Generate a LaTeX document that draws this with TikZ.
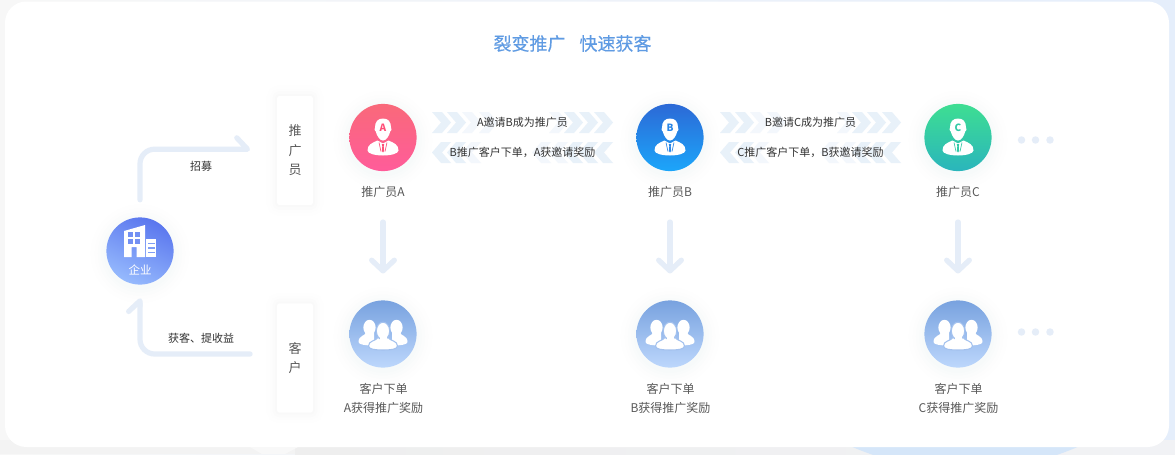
\documentclass[tikz,border=0pt]{standalone}
\usepackage{fontspec}
\setmainfont{Noto Sans CJK SC}
\newfontfamily\titlefont[FakeBold=0.3]{Noto Sans CJK SC}
\usetikzlibrary{arrows.meta,shapes.geometric}
\definecolor{flowc}{HTML}{E5EDF8}
\definecolor{bandc}{HTML}{E8F1F9}
\definecolor{bandl}{HTML}{F3F7FC}
\definecolor{txt}{HTML}{333333}
\definecolor{txtg}{HTML}{585858}
\definecolor{titlec}{HTML}{5F9BE3}
\definecolor{shadowc}{HTML}{6F8DC0}
\newcommand{\hx}[1]{\definecolor{#1}{HTML}{#1}}
\hx{F7F7F7}\hx{E5EEFB}\hx{F3F3F3}\hx{EEEEEE}\hx{F1F2F5}\hx{F8F8F8}\hx{C2DBF6}\hx{D6E6F9}
\hx{5A76EE}\hx{96BAFD}\hx{F9697A}\hx{FF4E78}\hx{FF5C9A}\hx{2C69D6}\hx{1CA6FA}\hx{3EDE92}\hx{2AB5BC}
\hx{78A2DF}\hx{BDD7FC}\hx{FF4F78}\hx{2A86E6}\hx{31C9A6}\hx{A3C1EE}\hx{7390F3}\hx{7E9DF5}
\tikzset{
  softshadow/.style={
    preaction={draw=shadowc,draw opacity=.004,line width=24pt,transform canvas={yshift=-2pt}},
    preaction={draw=shadowc,draw opacity=.005,line width=18pt,transform canvas={yshift=-2pt}},
    preaction={draw=shadowc,draw opacity=.006,line width=13pt,transform canvas={yshift=-2pt}},
    preaction={draw=shadowc,draw opacity=.007,line width=8pt,transform canvas={yshift=-2pt}},
    preaction={draw=shadowc,draw opacity=.008,line width=4pt,transform canvas={yshift=-2pt}}},
  faintshadow/.style={
    preaction={draw=black,draw opacity=.004,line width=16pt},
    preaction={draw=black,draw opacity=.005,line width=11pt},
    preaction={draw=black,draw opacity=.006,line width=7pt},
    preaction={draw=black,draw opacity=.008,line width=3pt}},
  disc/.style={circle,minimum size=50.4pt,inner sep=0pt,softshadow},
  tallbox/.style={rectangle,rounded corners=2pt,fill=white,minimum width=27pt,minimum height=82pt,inner sep=0pt,faintshadow,
     text=txtg,align=center,font=\fontsize{9.75}{14.6}\selectfont},
  flow/.style={draw=flowc,line width=3.9pt,line cap=round,line join=round},
  elbowtip/.style={-{Straight Barb[harpoon,round,length=8pt,width=17pt,line width=3.9pt]}},
  downtip/.style={-{Straight Barb[round,length=8pt,width=17pt,line width=3.9pt]}},
  lbl/.style={inner sep=0pt,text=txt,font=\fontsize{8.25}{10}\selectfont},
  captxt/.style={inner sep=0pt,text=txtg,font=\fontsize{9}{14.25}\selectfont,align=center},
  dotm/.style={fill=flowc}
}
% chevrons: right-pointing at x, band top y, colour
\newcommand{\chevR}[3]{\fill[#3] (#1,#2)--(#1+10,#2)--(#1+19,#2+10.5)--(#1+10,#2+21)--(#1,#2+21)--(#1+9,#2+10.5)--cycle;}
\newcommand{\chevL}[3]{\fill[#3] (#1,#2)--(#1-10,#2)--(#1-19,#2+10.5)--(#1-10,#2+21)--(#1,#2+21)--(#1-9,#2+10.5)--cycle;}
% person icon: centre x,y ; icon colour ; letter ; node name
\newcommand{\personicon}[5]{%
 \begin{scope}[shift={(#1,#2)}]
  \fill[white] (-8,-10) .. controls (-8,-16) and (-5,-19) .. (0,-19) .. controls (5,-19) and (8,-16) .. (8,-10)
     .. controls (8.8,-9) and (8.8,-6) .. (7.2,-6) .. controls (6,-1) and (3,3) .. (0,3) .. controls (-3,3) and (-6,-1) .. (-7.2,-6)
     .. controls (-8.8,-6) and (-8.8,-9) .. (-8,-10) -- cycle;
  \fill[white] (-5.5,3) -- (0,6) -- (5.5,3) .. controls (11,5.5) and (15.5,7) .. (15.5,13)
     .. controls (15.5,16) and (8,18) .. (0,18) .. controls (-8,18) and (-15.5,16) .. (-15.5,13)
     .. controls (-15.5,7) and (-11,5.5) .. (-5.5,3) -- cycle;
  \draw[#3,line width=.5pt] (-4,5) -- (-2,14);
  \draw[#3,line width=.5pt] (4,5) -- (2,14);
  \fill[#3] (-1.2,6.5) -- (1.2,6.5) -- (.7,9) -- (1.1,13.5) -- (0,15) -- (-1.1,13.5) -- (-.7,9) -- cycle;
  \node[inner sep=0pt,text=#3,font=\fontsize{7.5}{8}\selectfont\bfseries] (#5) at (0,-9.5) {#4};
 \end{scope}}
% group icon
\newcommand{\groupicon}[3]{%
 \begin{scope}[shift={(#1,#2)}]
  \foreach \s in {-1,1}{
   \fill[white] (\s*13.5,-6.5) ellipse [x radius=4.6pt, y radius=5.8pt];
   \fill[white] (\s*9,-2) -- (\s*17,-2) .. controls (\s*17,2) and (\s*24.5,1) .. (\s*24.5,8)
      .. controls (\s*24.5,11) and (\s*16,11.5) .. (\s*9,11.5) -- cycle;
  }
  \fill[white,draw=#3,line width=.8pt] (0,-3) ellipse [x radius=5pt, y radius=6.6pt];
  \fill[white,draw=#3,line width=.8pt] (-5,3.5) .. controls (-7,7) and (-14.5,6.5) .. (-14.5,12) .. controls (-14.5,15.5) and (-7,16) .. (0,16)
     .. controls (7,16) and (14.5,15.5) .. (14.5,12) .. controls (14.5,6.5) and (7,7) .. (5,3.5) .. controls (2,6) and (-2,6) .. (-5,3.5) -- cycle;
  \fill[white] (-3.5,2) rectangle (3.5,6);
 \end{scope}}
\begin{document}
\begin{tikzpicture}[x=0.75pt,y=-0.75pt]
\useasboundingbox (0,0) rectangle (1175,454);
\clip (0,0) rectangle (1175,454);
% page background
\shade[left color=F7F7F7,right color=E5EEFB] (0,0) rectangle (1175,454);
\fill[F3F3F3] (0,440) rectangle (1175,454);
\shade[left color=EEEEEE,right color=F1F2F5] (295,440) rectangle (1175,454);
\fill[F8F8F8] (250,447) -- (298,447) -- (285,454) -- (262,454) -- cycle;
\begin{scope}
  \clip (800,440) rectangle (1175,454);
  \shade[top color=C2DBF6,bottom color=D6E6F9] (965,184) circle [radius=214.5pt];
\end{scope}
\fill[E5EEFB] (1169,0) rectangle (1175,440);
% panel
\fill[white,rounded corners=16pt] (5,1.5) rectangle (1169,447);
% title
\node[inner sep=0pt,text=titlec,font=\titlefont\fontsize{13.5}{16}\selectfont] (title) at (572.5,43.5) {裂变推广\hspace*{10.5pt}快速获客};
% side boxes
\node[tallbox] (boxP) at (295,150.5) {推\\广\\员};
\node[tallbox] (boxC) at (295,358) {客\\户};
% discs
\node[disc,top color=5A76EE,bottom color=96BAFD,shading angle=-25] (ent) at (140,251) {};
\node[disc,top color=F9697A,middle color=FF4E78,bottom color=FF5C9A] (pa) at (383,137.5) {};
\node[disc,top color=2C69D6,bottom color=1CA6FA] (pb) at (670,137.5) {};
\node[disc,top color=3EDE92,bottom color=2AB5BC] (pc) at (958,137.5) {};
\node[disc,top color=78A2DF,bottom color=BDD7FC] (ca) at (383,334) {};
\node[disc,top color=78A2DF,bottom color=BDD7FC] (cb) at (670,334) {};
\node[disc,top color=78A2DF,bottom color=BDD7FC] (cc) at (958,334) {};
% icons
\personicon{383}{137.5}{FF4F78}{A}{la}
\personicon{670}{137.5}{2A86E6}{B}{lb}
\personicon{958}{137.5}{31C9A6}{C}{lc}
\groupicon{383}{334}{A3C1EE}
\groupicon{670}{334}{A3C1EE}
\groupicon{958}{334}{A3C1EE}
% building
\begin{scope}[shift={(140,251)}]
  \fill[white] (-16,-20) -- (5,-26) -- (5,6) -- (-3.3,6) -- (-3.3,-4) -- (-8.3,-4) -- (-8.3,6) -- (-16,6) -- cycle;
  \fill[white] (6.3,-12) -- (16,-12) -- (16,6) -- (6.3,6) -- cycle;
  \foreach \a/\b in {-11.7/-19,-5/-19,-11.7/-11.7,-5/-11.7}{
    \fill[7390F3] (\a,\b) rectangle (\a+5,\b+5);}
  \foreach \b in {-8.5,-3.8,.9}{\fill[7E9DF5] (8,\b) rectangle (14.5,\b+1.3);}
  \node[inner sep=0pt,text=white,font=\fontsize{8.6}{10}\selectfont] (entl) at (0,19) {企业};
\end{scope}
% captions
\node[captxt] (ta) at (383,191.7) {推广员A};
\node[captxt] (tb) at (670,191.7) {推广员B};
\node[captxt] (tc) at (958,191.7) {推广员C};
\node[captxt] (da) at (383.5,398) {客户下单\\A获得推广奖励};
\node[captxt] (db) at (670.5,398) {客户下单\\B获得推广奖励};
\node[captxt] (dc) at (958.5,398) {客户下单\\C获得推广奖励};
% elbow connectors
\draw[flow,elbowtip,rounded corners=11pt,shorten <=13pt,shorten >=20pt]
   (ent.north) |- ([yshift=1pt]boxP.west);
\node[lbl] (l1) at (201,166) {招募};
\draw[flow,elbowtip,rounded corners=11pt,shorten <=20pt,shorten >=10pt]
   ([yshift=3pt]boxC.west) -| (ent.south);
\node[lbl] (l2) at (201,338) {获客、提收益};
% down connectors
\foreach \u/\v in {pa/ca,pb/cb,pc/cc}{
  \draw[flow,downtip,shorten <=38pt,shorten >=20pt] (\u.south) -- (\v.north);
}
% chevron bands
\foreach \off in {0,288}{
  \foreach \x/\c in {432/bandc,447/bandc,462/bandl,479/bandl,549/bandl,564/bandc,579/bandc,594/bandc}{\chevR{\x+\off}{112}{\c}}
  \foreach \x/\c in {451/bandc,466/bandc,481/bandl,551/bandl,568/bandl,583/bandc,598/bandc,613/bandc}{\chevL{\x+\off}{142}{\c}}
}
\node[lbl] (b1) at (522.5,122.5) {A邀请B成为推广员};
\node[lbl] (b2) at (522.5,152.5) {B推广客户下单，A获邀请奖励};
\node[lbl] (b3) at (810.5,122.5) {B邀请C成为推广员};
\node[lbl] (b4) at (810.5,152.5) {C推广客户下单，B获邀请奖励};
% dots
\foreach \y in {140,332}{\foreach \x in {1021.5,1035.5,1050}{\fill[dotm] (\x,\y) circle [radius=2.8pt];}}
\end{tikzpicture}
\end{document}
